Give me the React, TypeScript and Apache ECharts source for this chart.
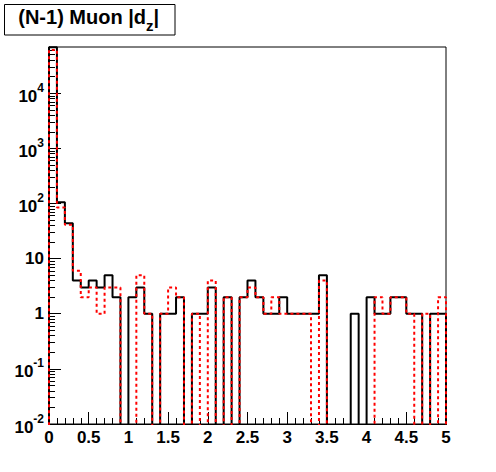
import React, { useEffect, useRef } from 'react';
import * as echarts from 'echarts';

// Histogram: |dz| of muons, 50 bins of width 0.1 from 0 to 5
const xMin = 0;
const xMax = 5;
const binWidth = 0.1;

// black (solid) histogram bin contents
const blackCounts = [
  68000, 105, 44, 4, 3, 4, 3, 5, 2, 0,
  2, 3, 1, 0, 1, 1, 2, 0, 1, 1,
  3, 0, 2, 0, 2, 4, 2, 1, 1, 2,
  1, 1, 1, 1, 5, 0, 0, 0, 1, 0,
  2, 1, 1, 2, 2, 1, 1, 0, 1, 1,
];

// red (dashed) histogram bin contents
const redCounts = [
  61000, 85, 41, 6, 2, 3, 1, 3, 3, 0,
  0, 5, 1, 0, 1, 3, 2, 0, 1, 0,
  4, 0, 2, 0, 2, 3, 2, 1, 2, 1,
  1, 1, 1, 0, 4, 0, 0, 0, 0, 0,
  0, 2, 1, 2, 2, 1, 0, 1, 0, 2,
];

const yMin = 0.01;
const yMax = 69000;
const yMajorTicks = [0.01, 0.1, 1, 10, 100, 1000, 10000];
const yMinorTicks = [
  0.02, 0.03, 0.04, 0.05, 0.06, 0.07, 0.08, 0.09,
  0.2, 0.3, 0.4, 0.5, 0.6, 0.7, 0.8, 0.9,
  2, 3, 4, 5, 6, 7, 8, 9,
  20, 30, 40, 50, 60, 70, 80, 90,
  200, 300, 400, 500, 600, 700, 800, 900,
  2000, 3000, 4000, 5000, 6000, 7000, 8000, 9000,
  20000, 30000, 40000, 50000, 60000,
];

const titleMain = '(N-1) Muon |d';
const titleSub = 'z';
const titleEnd = '|';

const FONT = '"Liberation Sans", Arial, Helvetica, sans-serif';
const FLOOR = 0.001; // empty bins drop below the axis minimum (clipped)

function stepPoints(counts: number[]) {
  const pts: [number, number][] = [[xMin, FLOOR]];
  counts.forEach((c, i) => {
    const v = c > 0 ? c : FLOOR;
    const lo = +(xMin + i * binWidth).toFixed(4);
    const hi = +(xMin + (i + 1) * binWidth).toFixed(4);
    pts.push([lo, v], [hi, v]);
  });
  pts.push([xMax, FLOOR]);
  return pts;
}

export default function App() {
  const ref = useRef<HTMLDivElement>(null);
  useEffect(() => {
    if (!ref.current) return;
    const chart = echarts.init(ref.current, undefined, { renderer: 'svg' });
    const yLabelFormatter = (v: number) => {
      const e = Math.round(Math.log10(v));
      if (e === 0) return '{b|1}';
      if (e === 1) return '{b|10}';
      return '{sp| }{b|10}{p|' + e + '}';
    };
    chart.setOption({
      animation: false,
      backgroundColor: '#fff',
      grid: {
        left: 49,
        right: 50,
        top: 47,
        bottom: 48,
        show: true,
        borderColor: '#000',
        borderWidth: 1,
        backgroundColor: '#fff',
      },
      xAxis: {
        type: 'value',
        min: xMin,
        max: xMax,
        interval: 0.5,
        axisLine: { show: true, onZero: false, lineStyle: { color: '#000', width: 1 } },
        axisTick: { show: true, inside: true, length: 12, lineStyle: { color: '#000', width: 1 } },
        minorTick: { show: true, splitNumber: 5, length: 6, lineStyle: { color: '#000', width: 1 } },
        splitLine: { show: false },
        minorSplitLine: { show: false },
        axisLabel: {
          color: '#000',
          fontSize: 17,
          fontWeight: 'bold',
          fontFamily: FONT,
          margin: 5,
          showMinLabel: true,
          showMaxLabel: true,
        },
      },
      yAxis: [
        {
          type: 'log',
          logBase: 10,
          min: yMin,
          max: yMax,
          axisLine: { show: true, lineStyle: { color: '#000', width: 1 } },
          axisTick: { show: true, inside: true, length: 12, customValues: yMajorTicks, lineStyle: { color: '#000', width: 1 } },
          splitLine: { show: false },
          axisLabel: {
            customValues: yMajorTicks,
            formatter: yLabelFormatter,
            margin: 5,
            color: '#000',
            rich: {
              sp: { fontSize: 1, lineHeight: 23, fontFamily: FONT },
              b: { fontSize: 17, fontWeight: 'bold', fontFamily: FONT, color: '#000', lineHeight: 17, verticalAlign: 'bottom' },
              p: { fontSize: 12, fontWeight: 'bold', fontFamily: FONT, color: '#000', lineHeight: 15, verticalAlign: 'top' },
            },
          },
        },
        {
          type: 'log',
          logBase: 10,
          min: yMin,
          max: yMax,
          position: 'left',
          axisLine: { show: false },
          axisTick: { show: true, inside: true, length: 6, customValues: yMinorTicks, lineStyle: { color: '#000', width: 1 } },
          axisLabel: { show: false },
          splitLine: { show: false },
        },
      ],
      series: [
        {
          type: 'line',
          yAxisIndex: 0,
          data: stepPoints(blackCounts),
          symbol: 'none',
          clip: true,
          lineStyle: { color: '#000', width: 2 },
          z: 2,
        },
        {
          type: 'line',
          yAxisIndex: 0,
          data: stepPoints(redCounts),
          symbol: 'none',
          clip: true,
          lineStyle: { color: '#ff0000', width: 2, type: [3, 3] },
          z: 3,
        },
      ],
      graphic: [
        {
          type: 'rect',
          shape: { x: 4.5, y: 4.5, width: 170.5, height: 30.5 },
          style: { fill: '#fff', stroke: '#000', lineWidth: 1 },
          z: 10,
        },
        {
          type: 'text',
          x: 18,
          y: 7,
          z: 11,
          style: {
            text: '{sp| }{a|' + titleMain + '}{z|' + titleSub + '}{a|' + titleEnd + '}',
            verticalAlign: 'top',
            rich: {
              sp: { fontSize: 1, lineHeight: 26, fontFamily: FONT },
              a: { fontSize: 20, fontWeight: 'bold', fontFamily: FONT, fill: '#000', lineHeight: 20, verticalAlign: 'top' },
              z: { fontSize: 15, fontWeight: 'bold', fontFamily: FONT, fill: '#000', lineHeight: 15, verticalAlign: 'bottom' },
            },
          },
        },
      ],
    });
    return () => chart.dispose();
  }, []);
  return (
    <div
      ref={ref}
      style={{ position: 'fixed', left: 0, top: 0, width: 496, height: 472, background: '#fff' }}
    />
  );
}
